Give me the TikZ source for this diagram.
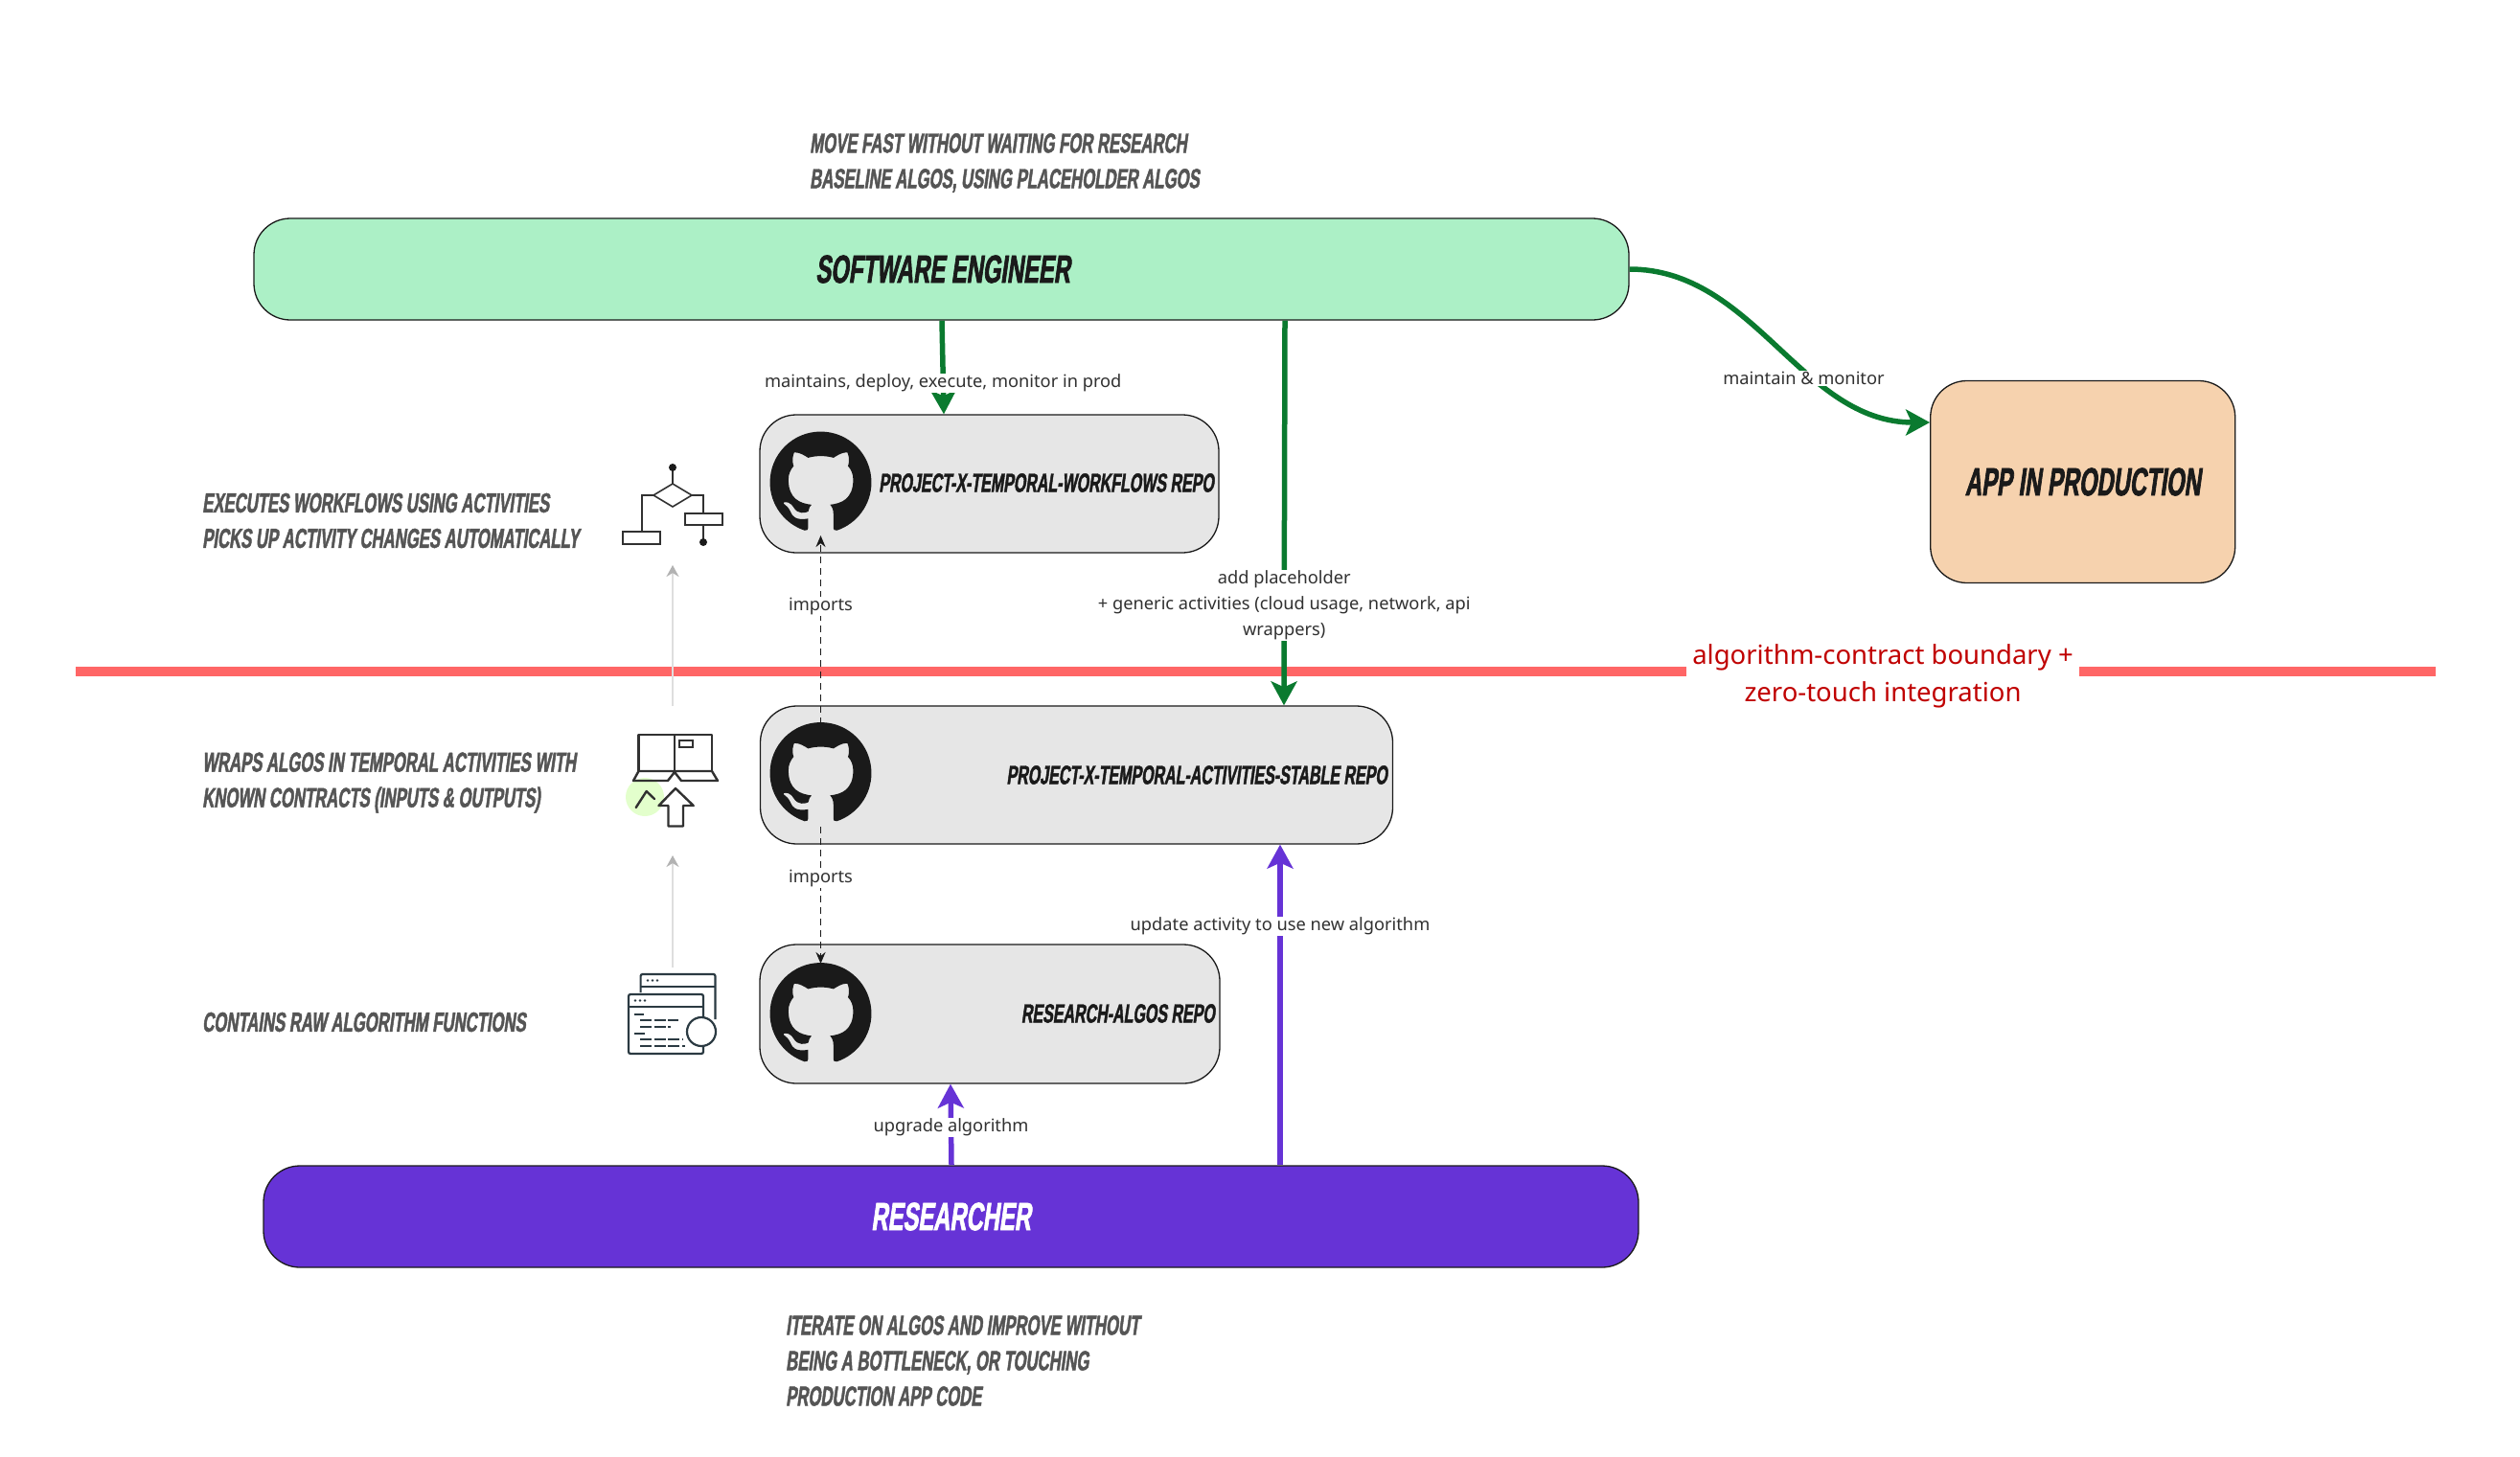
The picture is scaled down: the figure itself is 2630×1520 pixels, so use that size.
\documentclass[tikz,border=0pt]{standalone}
\usepackage{fontspec}
\setmainfont{Noto Sans}
\newfontfamily\bangers[UprightFont={* Bold},FakeStretch=0.58,FakeSlant=0.14,FakeBold=1.6]{Liberation Sans}
\usepackage{tikz}
\usetikzlibrary{arrows.meta,calc,positioning,svg.path}

\definecolor{engfill}{HTML}{ACF0C6}
\definecolor{appfill}{HTML}{F6D2AE}
\definecolor{repofill}{HTML}{E6E6E6}
\definecolor{resfill}{HTML}{6633D6}
\definecolor{edge}{HTML}{1A1A1A}
\definecolor{engline}{HTML}{0A7A2F}
\definecolor{redline}{HTML}{FF6666}
\definecolor{redtext}{HTML}{C00000}
\definecolor{desctext}{HTML}{555555}
\definecolor{codeline}{HTML}{2B3A42}

\tikzset{
    pill/.style={draw=edge, line width=1.3pt, rounded corners=38pt, inner sep=0pt},
    title/.style={font=\bangers\fontsize{41}{41}\selectfont, text=edge, inner sep=0pt},
    repotitle/.style={font=\bangers\fontsize{27.6}{27.6}\selectfont, text=edge, inner sep=0pt, anchor=east},
    desc/.style={font=\bangers\fontsize{28.8}{37}\selectfont, text=desctext, inner sep=0pt, anchor=west, align=left},
    lbl/.style={font=\fontsize{18.25}{27}\selectfont, text=edge!90, fill=white, inner sep=1pt, align=center, yshift=-1.5pt},
    engarrow/.style={draw=engline, line width=5.5pt, -{Stealth[length=25pt,width=27pt,inset=6pt]}},
    resarrow/.style={draw=resfill, line width=5.5pt, -{Stealth[length=25pt,width=27pt,inset=6pt]}},
    dep/.style={draw=edge, line width=1.9pt, dash pattern=on 7pt off 5pt, -{Stealth[length=12pt,width=10pt]}},
    stack/.style={draw=black!13, line width=2pt, -{Stealth[length=12pt,width=13pt,color=black!30]}},
    icon/.style={draw=edge!90, line width=1.6pt},
    ghlogo/.pic={
        \fill[edge, xscale=6.62, yscale=-6.62, xshift=-8pt, yshift=-8pt] (0,0) svg {M 8 0 c -4.42 0 -8 3.58 -8 8 c 0 3.54 2.29 6.53 5.47 7.59 c .4 .07 .55 -.17 .55 -.38 c 0 -.19 -.01 -.82 -.01 -1.49 c -2.01 .37 -2.53 -.49 -2.69 -.94 c -.09 -.23 -.48 -.94 -.82 -1.13 c -.28 -.15 -.68 -.52 -.01 -.53 c .63 -.01 1.08 .58 1.23 .82 c .72 1.21 1.87 .87 2.33 .66 c .07 -.52 .28 -.87 .51 -1.07 c -1.78 -.2 -3.64 -.89 -3.64 -3.95 c 0 -.87 .31 -1.59 .82 -2.15 c -.08 -.2 -.36 -1.02 .08 -2.12 c 0 0 .67 -.21 2.2 .82 c .64 -.18 1.32 -.27 2 -.27 c .68 0 1.36 .09 2 .27 c 1.53 -1.04 2.2 -.82 2.2 -.82 c .44 1.1 .16 1.92 .08 2.12 c .51 .56 .82 1.27 .82 2.15 c 0 3.07 -1.87 3.75 -3.65 3.95 c .29 .25 .54 .73 .54 1.48 c 0 1.07 -.01 1.93 -.01 2.2 c 0 .21 .15 .46 .55 .38 c 3.18 -1.07 5.45 -4.06 5.45 -7.59 c 0 -4.42 -3.58 -8 -8 -8 z};
    }
}

\begin{document}
\begin{tikzpicture}[x=1pt,y=-1pt]
    \useasboundingbox (0,0) rectangle (2630,1520);

    % Boundary
    \coordinate (redl) at (79,701);
    \coordinate (redr) at (2542,701);
    \draw[redline, line width=9.5pt] (redl) -- (redr);
    \node[font=\fontsize{27.5}{39}\selectfont, text=redtext, fill=white, align=center, inner xsep=6pt, inner ysep=2pt] (bound) at (1965,705.5) {algorithm-contract boundary +\\zero-touch integration};

    % Roles
    \node[pill, fill=engfill, minimum width=1435pt, minimum height=106pt, title] (eng) at (982.5,281) {\hspace*{3pt}SOFTWARE ENGINEER};
    \node[pill, fill=resfill, minimum width=1435pt, minimum height=106pt, title, text=white] (res) at (992.5,1270) {RESEARCHER};
    \node[pill, fill=appfill, minimum width=318pt, minimum height=211pt, title] (app) at (2173.7,503) {APP IN PRODUCTION};

    % Repos
    \node[pill, fill=repofill, minimum width=479pt, minimum height=144pt] (wfrepo) at (1032.5,505) {};
    \node[pill, fill=repofill, minimum width=660pt, minimum height=144pt] (acrepo) at (1123.5,809) {};
    \node[pill, fill=repofill, minimum width=480pt, minimum height=145pt] (rerepo) at (1033,1058.5) {};
    \node[repotitle] (wftitle) at (1267,504) {PROJECT-X-TEMPORAL-WORKFLOWS REPO};
    \node[repotitle] (actitle) at (1448,809) {PROJECT-X-TEMPORAL-ACTIVITIES-STABLE REPO};
    \node[repotitle] (retitle) at (1268,1058) {RESEARCH-ALGOS REPO};

    % Logos
    \coordinate (wflogo) at (856.5,503.5);
    \coordinate (aclogo) at (856.5,807);
    \coordinate (relogo) at (856.5,1058);
    \pic at (wflogo) {ghlogo};
    \pic at (aclogo) {ghlogo};
    \pic at (relogo) {ghlogo};

    % Descriptions
    \node[desc] (descsw) at (845,170) {MOVE FAST WITHOUT WAITING FOR RESEARCH\\BASELINE ALGOS, USING PLACEHOLDER ALGOS};
    \node[desc] (descwf) at (211,543.5) {EXECUTES WORKFLOWS USING ACTIVITIES\\PICKS UP ACTIVITY CHANGES AUTOMATICALLY};
    \node[desc] (descac) at (211,817) {WRAPS ALGOS IN TEMPORAL ACTIVITIES WITH\\KNOWN CONTRACTS (INPUTS \& OUTPUTS)};
    \node[desc] (descre) at (211,1067) {CONTAINS RAW ALGORITHM FUNCTIONS};
    \node[desc] (descres) at (820,1420.5) {ITERATE ON ALGOS AND IMPROVE WITHOUT\\BEING A BOTTLENECK, OR TOUCHING\\PRODUCTION APP CODE};

    % Flowchart icon
    \draw[icon] (702,488) -- (702,505) -- (722,517) -- (702,529) -- (682,517) -- (702,505);
    \fill[edge] (702,488) circle (4);
    \draw[icon] (682,517) -- (670,517) -- (670,555);
    \draw[icon] (722,517) -- (734,517) -- (734,536);
    \draw[icon] (650,555) rectangle (689,568);
    \draw[icon] (715,536) rectangle (754,548);
    \draw[icon] (734,548) -- (734,566);
    \fill[edge] (734,566) circle (4);

    % Laptop icon
    \fill[green!40!lime!20] (673,832) circle (20);
    \draw[icon, line width=2.4pt, line join=round] (666.5,805) -- (666.5,767) -- (743,767) -- (743,805);
    \draw[icon, line width=2.4pt, line join=round] (704,767) -- (704,806);
    \draw[icon, line width=2.4pt, line join=round] (666.5,805) -- (661,815) -- (697,815) -- (704,806) -- (711,815) -- (749,815) -- (743,805) -- cycle;
    \draw[icon, line width=2.4pt] (709,773) rectangle (723,780);
    \draw[icon, line width=2.4pt, line join=round] (705,823) -- (723.7,841) -- (713,841) -- (713,862.5) -- (697.5,862.5) -- (697.5,841) -- (687.5,841) -- cycle;
    \draw[icon, line width=2.4pt, line cap=round, line join=round] (663.7,843) -- (674.7,826) -- (683,834);

    % Code icon
    \draw[codeline, line width=2.2pt, rounded corners=2pt] (668.6,1036) -- (668.6,1017) -- (746.5,1017) -- (746.5,1064);
    \draw[codeline, line width=2.2pt] (668.6,1030) -- (746.5,1030);
    \draw[codeline, line width=2.2pt, rounded corners=2pt] (656,1038) rectangle (734,1100);
    \draw[codeline, line width=2.2pt] (656,1051) -- (734,1051);
    \foreach \dotx in {676,681,686}
        \fill[codeline] (\dotx,1023.5) circle (1.3);
    \foreach \dotx in {663,668,673}
        \fill[codeline] (\dotx,1044.5) circle (1.3);
    \foreach \linex/\liney/\lineend in {662/1059/672, 668/1065/708, 668/1072/700, 662/1079/673, 668/1085/712, 668/1092/715}
        \draw[codeline, line width=2.2pt, dash pattern=on 12pt off 2.5pt] (\linex,\liney) -- (\lineend,\liney);
    \draw[codeline, fill=white, line width=2.2pt] (732,1077) circle (15);

    % Stack
    \coordinate (wficon) at (702,590);
    \coordinate (acicontop) at (702,737);
    \coordinate (acicon) at (702,893);
    \coordinate (reicon) at (702,1010);
    \draw[stack] (acicontop) -- (wficon);
    \draw[stack] (reicon) -- (acicon);

    % Imports
    \draw[dep] ([yshift=51pt]aclogo) -- node[lbl, pos=.63] (impa) {imports} ([yshift=-55.5pt]wflogo);
    \draw[dep] ([yshift=-56pt]aclogo) -- node[lbl, pos=.37] (impb) {imports} ([yshift=52pt]relogo);

    % Engineer
    \draw[engarrow] ([xshift=.5pt]eng.south) -- node[lbl, pos=.65] (lblwf) {maintains, deploy, execute, monitor in prod} ([xshift=-47.5pt]wfrepo.north);
    \draw[engarrow] ([xshift=358.5pt]eng.south) -- node[lbl, pos=.737] (lblac) {add placeholder\\+ generic activities (cloud usage, network, api\\wrappers)} ([xshift=216.5pt]acrepo.north);
    \draw[engarrow] (eng.east) .. controls +(130,0) and +(-134,0) .. node[lbl, pos=.64, xshift=-12pt] (lblapp) {maintain \& monitor} ([yshift=62pt]app.west);

    % Researcher
    \draw[resarrow] ([xshift=.5pt]res.north) -- node[lbl, pos=.48] (lblre) {upgrade algorithm} ([xshift=-41pt]rerepo.south);
    \draw[resarrow] ([xshift=343.5pt]res.north) -- node[lbl, pos=.75] (lblup) {update activity to use new algorithm} ([xshift=212.5pt]acrepo.south);
\end{tikzpicture}
\end{document}
